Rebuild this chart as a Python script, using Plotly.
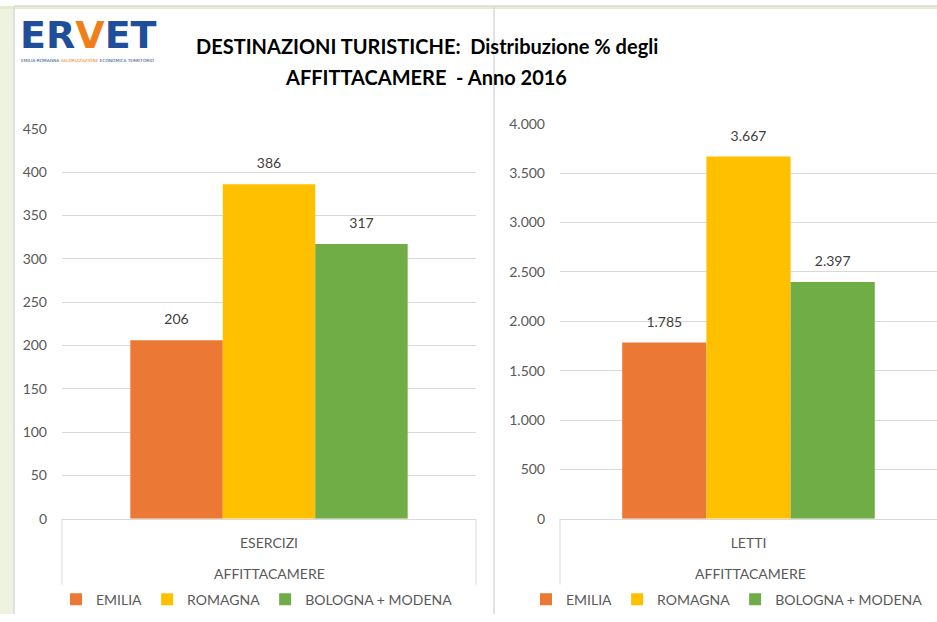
import plotly.graph_objects as go

regions = ["EMILIA", "ROMAGNA", "BOLOGNA + MODENA"]
colors = ["#EC7835", "#FFC000", "#70AD47"]
group_label = "AFFITTACAMERE"
left_category = "ESERCIZI"
right_category = "LETTI"
esercizi = [206, 386, 317]
letti = [1785, 3667, 2397]
left_ticks = [0, 50, 100, 150, 200, 250, 300, 350, 400, 450]
right_ticks = [0, 500, 1000, 1500, 2000, 2500, 3000, 3500, 4000]

W, H = 937, 622
# measured photo mapping: screen_y = 8 + 0.975 * figure_y
Y_OFF, Y_SCALE = 8.0, 0.975
def px(x): return x / W
def py(y): return 1 - ((y - Y_OFF) / Y_SCALE) / H

FONT = "Lato, 'Open Sans', sans-serif"
GRAY = "#595959"
GRID = "#D9D9D9"

fig = go.Figure()
panels = [(left_category, esercizi, "x", "y", "legend"),
          (right_category, letti, "x2", "y2", "legend2")]
for cat, vals, xa, ya, lg in panels:
    for i, (name, col, v) in enumerate(zip(regions, colors, vals)):
        fig.add_trace(go.Bar(
            x=[cat], y=[v], name=name, offsetgroup=str(i),
            marker=dict(color=col, line=dict(width=0)),
            xaxis=xa, yaxis=ya, legend=lg, hoverinfo="skip"))
    for i, (name, v) in enumerate(zip(regions, vals)):
        fig.add_trace(go.Scatter(
            x=[cat], y=[v], mode="markers+text", offsetgroup=str(i),
            marker=dict(size=18, color="rgba(0,0,0,0)"),
            text=[v], texttemplate="%{y:,d}", textposition="top center",
            textfont=dict(size=14, color="#404040", family=FONT),
            xaxis=xa, yaxis=ya, showlegend=False, cliponaxis=False, hoverinfo="skip"))

xcommon = dict(type="category", showline=True, linecolor=GRID, linewidth=1,
               showgrid=False, zeroline=False, ticks="", ticklabelstandoff=11,
               tickfont=dict(size=14, color=GRAY, family=FONT), fixedrange=True)
ycommon = dict(showgrid=True, gridcolor=GRID, gridwidth=1, zeroline=False,
               showline=False, ticks="", tickformat=",d",
               tickfont=dict(size=14, color=GRAY, family=FONT),
               ticklabelstandoff=14, fixedrange=True)

L0, L1 = 62, 476
R0 = 560
fig.update_layout(
    width=W, height=H,
    margin=dict(l=0, r=0, t=0, b=0),
    paper_bgcolor="white", plot_bgcolor="rgba(0,0,0,0)",
    separators=",.",
    barmode="group", bargap=0.33, bargroupgap=0,
    scattermode="group", scattergap=0.33,
    font=dict(family=FONT, color=GRAY),
    xaxis=dict(domain=[px(L0), px(L1)], anchor="y", **xcommon),
    yaxis=dict(domain=[py(519), py(128)], anchor="x", range=[0, 450],
               tickvals=left_ticks, **ycommon),
    xaxis2=dict(domain=[px(R0), 1.0], anchor="y2", **xcommon),
    yaxis2=dict(domain=[py(519), py(123)], anchor="x2", range=[0, 4000],
                tickvals=right_ticks, **ycommon),
    legend=dict(orientation="h", x=px(257), xanchor="center", y=py(600), yanchor="middle",
                font=dict(size=14, color=GRAY, family=FONT), itemwidth=30,
                bgcolor="rgba(0,0,0,0)", traceorder="normal"),
    legend2=dict(orientation="h", x=px(727), xanchor="center", y=py(600), yanchor="middle",
                 font=dict(size=14, color=GRAY, family=FONT), itemwidth=30,
                 bgcolor="rgba(0,0,0,0)", traceorder="normal"),
    showlegend=True,
)

shapes = [
    # slide frame
    dict(type="rect", xref="paper", yref="paper", x0=0, x1=px(14), y0=0, y1=1,
         fillcolor="#EEF2E0", line=dict(width=0), layer="below"),
    dict(type="rect", xref="paper", yref="paper", x0=0, x1=1, y0=py(5), y1=1,
         fillcolor="#E6ECCF", line=dict(width=0), layer="below"),
    dict(type="line", xref="paper", yref="paper", x0=px(14), x1=px(14), y0=0, y1=py(5),
         line=dict(color=GRID, width=1.5)),
    dict(type="line", xref="paper", yref="paper", x0=px(14), x1=1, y0=py(5), y1=py(5),
         line=dict(color=GRID, width=1.5)),
    dict(type="line", xref="paper", yref="paper", x0=px(494), x1=px(494), y0=0, y1=py(5),
         line=dict(color=GRID, width=1.5)),
    # category boxes
    dict(type="line", xref="paper", yref="paper", x0=px(L0), x1=px(L0), y0=py(519), y1=py(585),
         line=dict(color=GRID, width=1)),
    dict(type="line", xref="paper", yref="paper", x0=px(L1), x1=px(L1), y0=py(519), y1=py(585),
         line=dict(color=GRID, width=1)),
    dict(type="line", xref="paper", yref="paper", x0=px(R0), x1=px(R0), y0=py(519), y1=py(585),
         line=dict(color=GRID, width=1)),
]
fig.update_layout(shapes=shapes)

anns = [
    dict(text="<b>DESTINAZIONI TURISTICHE:  Distribuzione % degli</b>", x=px(427), y=py(45),
         font=dict(size=20, color="black", family="Lato"), showarrow=False),
    dict(text="<b>AFFITTACAMERE  - Anno 2016</b>", x=px(426), y=py(76),
         font=dict(size=20, color="black", family="Lato"), showarrow=False),
    dict(text="<b><span style='color:#1F4E9A'>ER</span><span style='color:#F07F1A'>V</span><span style='color:#1F4E9A'>ET</span></b>",
         x=px(88), y=py(34), font=dict(size=38, family="DejaVu Sans"), showarrow=False),
    dict(text="<span style='color:#1F4E9A'>EMILIA-ROMAGNA </span><span style='color:#F07F1A'>VALORIZZAZIONE </span><span style='color:#1F4E9A'>ECONOMICA TERRITORIO</span>",
         x=px(88), y=py(60), font=dict(size=4.3, family="DejaVu Sans"), showarrow=False),
    dict(text=group_label, x=px((L0 + L1) / 2), y=py(574),
         font=dict(size=14, color=GRAY, family=FONT), showarrow=False),
    dict(text=group_label, x=px(750), y=py(574),
         font=dict(size=14, color=GRAY, family=FONT), showarrow=False),
]
for a in anns:
    a.update(xref="paper", yref="paper", xanchor="center", yanchor="middle")
fig.update_layout(annotations=anns)

fig.write_html(
    "out.html",
    config={"displayModeBar": False, "staticPlot": True},
    post_script=(
        "document.documentElement.style.overflow='hidden';"
        "document.body.style.margin='0';document.body.style.overflow='hidden';"
    ),
)
